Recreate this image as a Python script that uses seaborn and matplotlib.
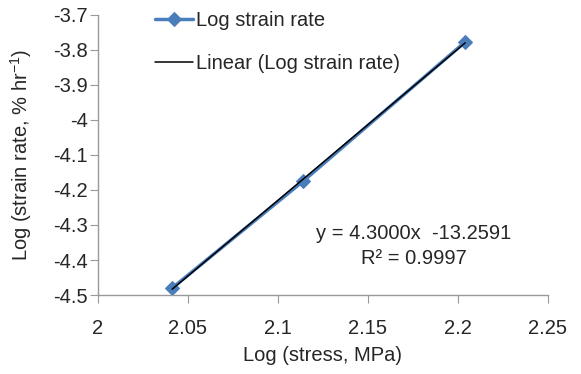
import matplotlib
matplotlib.use('Agg')
import matplotlib.pyplot as plt
import seaborn as sns
import pandas as pd

log_stress = [2.0414, 2.1139, 2.2041]
log_strain_rate = [-4.480, -4.176, -3.778]

sns.set_style('white')
plt.rcParams['font.family'] = ['Liberation Sans', 'DejaVu Sans']
plt.rcParams['mathtext.fontset'] = 'custom'
plt.rcParams['mathtext.rm'] = 'Liberation Sans'

FS = 14.5
df = pd.DataFrame({'x': log_stress, 'y': log_strain_rate})

fig = plt.figure(figsize=(5.81, 3.74), dpi=100)
ax = fig.add_axes([0.168, 0.211, 0.775, 0.75])

sns.lineplot(data=df, x='x', y='y', ax=ax, color='#4a7ebb', linewidth=2.5,
             marker='D', markersize=7, markeredgecolor='#4a7ebb',
             label='Log strain rate')
sns.regplot(data=df, x='x', y='y', ax=ax, scatter=False, ci=None,
            line_kws={'color': 'black', 'linewidth': 1.1})
ax.lines[-1].set_label('Linear (Log strain rate)')

ax.set_xlim(2, 2.25)
ax.set_ylim(-4.5, -3.7)
ax.set_xticks([2, 2.05, 2.1, 2.15, 2.2, 2.25])
ax.set_xticklabels(['2', '2.05', '2.1', '2.15', '2.2', '2.25'])
ax.set_yticks([-4.5, -4.4, -4.3, -4.2, -4.1, -4.0, -3.9, -3.8, -3.7])
ax.set_yticklabels(['-4.5', '-4.4', '-4.3', '-4.2', '-4.1', '-4', '-3.9', '-3.8', '-3.7'])
ax.tick_params(axis='both', labelsize=FS, length=6, color='#999999',
               direction='out', bottom=True, left=True)
ax.tick_params(axis='x', pad=11)
ax.tick_params(axis='y', pad=1)

for s in ['top', 'right']:
    ax.spines[s].set_visible(False)
for s in ['left', 'bottom']:
    ax.spines[s].set_color('#999999')
    ax.spines[s].set_linewidth(1)

ax.set_xlabel('Log (stress, MPa)', fontsize=FS, labelpad=6)
ax.set_ylabel('Log (strain rate, % hr$^{-1}$)', fontsize=FS, labelpad=14)

leg = ax.legend(loc='upper left', bbox_to_anchor=(155 / 581, 1 - 11 / 374),
                bbox_transform=fig.transFigure, frameon=False, fontsize=FS,
                borderpad=0, borderaxespad=0, handlelength=1.9,
                labelspacing=1.2, handletextpad=0.15)

ax.text(2.1754, -4.36, 'y = 4.3000x  -13.2591\nR\u00b2 = 0.9997', ha='center', va='center',
        fontsize=FS, linespacing=1.35)

fig.savefig('out.png', dpi=100)
